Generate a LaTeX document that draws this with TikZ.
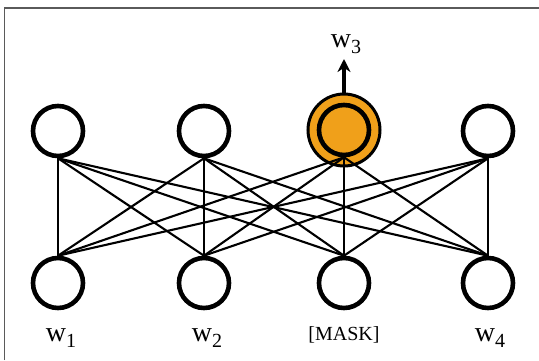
\documentclass[tikz,border=0pt]{standalone}
\usepackage{fontspec}
\setmainfont{Liberation Serif}
\usetikzlibrary{arrows.meta}
\definecolor{MaskOrange}{HTML}{F0A01A}
\definecolor{FrameGray}{HTML}{5A5A5A}
\newcommand{\wsub}[1]{w\raisebox{-5.5pt}{\fontsize{20}{22}\selectfont #1}}

\begin{document}
\begin{tikzpicture}[x=1pt,y=1pt,
    unit/.style={circle,draw=black,line width=4.6pt,minimum size=50pt,inner sep=0pt},
    link/.style={line width=2.1pt},
    word/.style={font=\fontsize{28}{30}\selectfont,inner sep=0pt}
  ]
    \useasboundingbox (0,0) rectangle (539,360);
    \fill[white] (0,0) rectangle (539,360);
    \draw[FrameGray,line width=1.4pt] (4.5,0) -- (4.5,352) -- (539,352);

    % masked position gets the orange ring
    \node[circle,draw=black,fill=MaskOrange,line width=3pt,minimum size=72pt,inner sep=0pt]
      (ring) at (344,230) {};

    \foreach \i/\xx in {1/58,2/204,3/344,4/488} {
      \node[unit] (in\i) at (\xx,77) {};
    }
    \foreach \i/\xx in {1/58,2/204,4/488} {
      \node[unit,fill=white] (out\i) at (\xx,229) {};
    }
    \node[unit,fill=MaskOrange] (out3) at (344,230) {};

    \foreach \a in {1,...,4} {
      \foreach \b in {1,...,4} {
        \draw[link] (out\a.south) -- (in\b.north);
      }
    }

    \node[word] (lw1) at (61,22) {\wsub{1}};
    \node[word] (lw2) at (207,22) {\wsub{2}};
    \node[word,font=\fontsize{20}{24}\selectfont] (lmask) at (344,25) {[MASK]};
    \node[word] (lw4) at (490,22) {\wsub{4}};

    \coordinate (tip) at (344,301);
    \draw[line width=3.2pt,-{Stealth[length=13pt,width=13pt]}] (ring.north) -- (tip);
    \node[word] (lw3) at (346,316) {\wsub{3}};
  \end{tikzpicture}
\end{document}
